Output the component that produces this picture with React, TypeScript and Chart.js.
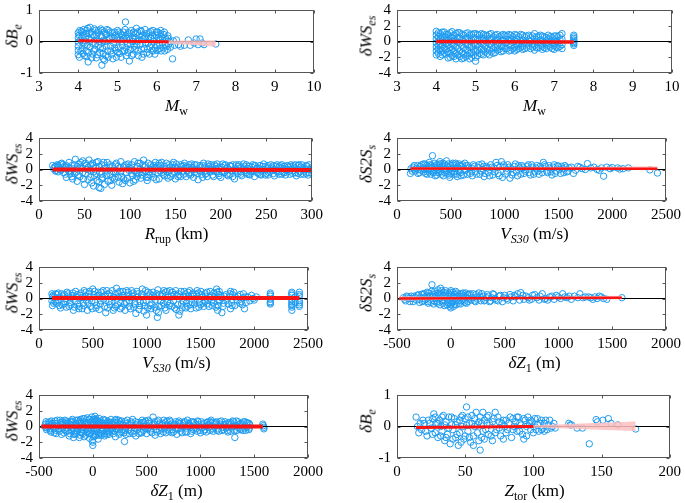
import React, { useEffect, useRef } from 'react';
import { Chart, registerables } from 'chart.js';
Chart.register(...registerables);

type P = [number, number];

// ---------- data ----------
const mwBe: P[] = [
  [4.0,0.28],[4.0,0.12],[4.0,-0.02],[4.0,-0.15],[4.0,-0.28],[4.0,-0.42],[4.02,0.2],[4.03,-0.5],
  [4.06,0.05],[4.08,0.32],[4.1,-0.22],[4.1,0.15],[4.12,-0.38],[4.14,0.38],[4.15,0.02],[4.17,-0.1],
  [4.2,0.25],[4.2,-0.3],[4.22,-0.48],[4.24,0.42],[4.25,-0.65],[4.27,0.1],[4.3,-0.18],[4.3,0.45],
  [4.33,0.3],[4.35,-0.05],[4.37,-0.4],[4.4,0.18],[4.42,-0.25],[4.44,0.35],[4.46,-0.52],[4.48,0.05],
  [4.5,0.28],[4.52,-0.12],[4.55,-0.35],[4.57,0.4],[4.6,0.15],[4.6,-0.75],[4.62,-0.22],[4.64,-0.55],
  [4.66,0.3],[4.68,0.0],[4.7,-0.45],[4.72,0.22],[4.75,-0.3],[4.77,0.35],[4.8,0.08],[4.82,-0.15],
  [4.85,-0.4],[4.87,0.28],[4.9,-0.05],[4.92,0.3],[4.95,-0.28],[4.97,-0.5],[5.0,0.35],[5.0,0.12],
  [5.02,-0.2],[5.05,-0.38],[5.08,0.25],[5.1,0.0],[5.12,-0.12],[5.15,0.3],[5.18,-0.3],[5.2,0.62],
  [5.2,0.18],[5.22,-0.45],[5.25,-0.08],[5.27,0.28],[5.3,-0.62],[5.3,0.05],[5.33,-0.25],[5.35,0.35],
  [5.38,0.12],[5.4,-0.4],[5.42,-0.15],[5.45,0.25],[5.48,0.42],[5.5,0.0],[5.52,-0.3],[5.55,0.2],
  [5.58,-0.1],[5.6,0.32],[5.62,-0.5],[5.65,0.08],[5.68,-0.22],[5.7,0.38],[5.72,0.15],[5.75,-0.35],
  [5.78,-0.05],[5.8,0.28],[5.82,-0.18],[5.85,0.1],[5.88,-0.28],[5.9,0.35],[5.92,0.0],[5.95,-0.4],
  [5.98,0.2],[6.0,-0.12],[6.02,0.3],[6.05,0.05],[6.08,-0.22],[6.1,0.35],[6.12,0.15],[6.15,-0.05],
  [6.18,0.22],[6.2,-0.3],[6.22,0.1],[6.25,-0.15],[6.28,0.18],[6.3,-0.08],[6.35,-0.18],[6.4,-0.55],
  [6.42,0.02],[6.45,-0.12],[6.5,0.05],[6.55,-0.1],[6.6,-0.15],[6.7,-0.12],[6.8,0.05],[6.85,-0.12],
  [6.95,-0.05],[7.0,0.08],[7.05,-0.1],[7.1,0.08],[7.15,-0.05],[7.2,-0.1],[7.5,-0.08],
];
const mwBeMore: P[] = [
  [4.04,0.35],[4.07,-0.3],[4.11,0.28],[4.13,-0.05],[4.16,-0.45],[4.19,0.12],[4.21,0.35],[4.23,-0.12],
  [4.26,-0.35],[4.28,0.25],[4.31,0.05],[4.34,-0.52],[4.36,0.22],[4.39,-0.3],[4.41,0.4],[4.43,-0.08],
  [4.47,0.2],[4.49,-0.42],[4.51,0.35],[4.53,0.0],[4.56,-0.2],[4.58,0.18],[4.61,0.35],[4.63,-0.38],
  [4.65,0.05],[4.67,-0.6],[4.69,0.25],[4.71,-0.15],[4.73,0.38],[4.76,-0.5],[4.78,0.1],[4.81,0.3],
  [4.83,-0.3],[4.86,0.15],[4.88,-0.55],[4.91,0.1],[4.93,-0.2],[4.96,0.2],[4.98,0.05],[5.01,-0.35],
  [5.03,0.3],[5.06,0.05],[5.09,-0.5],[5.11,0.2],[5.13,-0.3],[5.16,0.1],[5.19,0.38],[5.21,-0.2],
  [5.23,0.1],[5.26,-0.35],[5.28,0.15],[5.32,-0.1],[5.34,0.25],[5.36,-0.45],[5.39,0.0],[5.41,0.3],
  [5.44,-0.25],[5.46,0.1],[5.49,-0.1],[5.51,0.3],[5.53,-0.45],[5.56,0.05],[5.59,0.35],[5.61,-0.25],
  [5.63,0.18],[5.66,-0.4],[5.69,0.1],[5.71,-0.05],[5.74,0.25],[5.76,-0.25],[5.79,0.15],[5.81,-0.4],
  [5.84,0.32],[5.86,-0.1],[5.89,0.2],[5.91,-0.3],[5.94,0.1],[5.96,-0.2],[5.99,0.3],[6.01,-0.28],
  [6.04,0.12],[6.07,-0.12],[6.09,0.25],[6.11,-0.3],[6.14,0.1],[6.17,-0.2],[6.19,0.3],[6.21,-0.1],
  [6.24,0.05],[6.27,-0.25],[6.29,0.1],[6.32,0.0],
];

const mwWs: P[] = [
  [4.0,1.3],[4.0,0.8],[4.0,0.3],[4.0,-0.2],[4.0,-0.7],[4.0,-1.2],[4.0,-1.7],
  [4.1,1.0],[4.1,0.4],[4.1,-0.4],[4.1,-1.0],[4.1,-1.9],
  [4.2,1.2],[4.2,0.6],[4.2,-0.1],[4.2,-0.8],[4.2,-1.5],
  [4.3,0.9],[4.3,0.2],[4.3,-0.5],[4.3,-1.3],[4.3,-2.1],
  [4.4,1.25],[4.4,0.5],[4.4,-0.3],[4.4,-1.0],[4.4,-1.8],
  [4.5,1.0],[4.5,0.1],[4.5,-0.7],[4.5,-1.5],[4.5,-2.2],
  [4.6,1.1],[4.6,0.4],[4.6,-0.2],[4.6,-1.2],[4.6,-1.9],
  [4.7,0.8],[4.7,0.0],[4.7,-0.8],[4.7,-1.6],[4.7,-2.1],
  [4.8,1.1],[4.8,0.5],[4.8,-0.4],[4.8,-1.1],[4.8,-1.8],
  [4.9,0.9],[4.9,0.2],[4.9,-0.6],[4.9,-1.4],[4.9,-2.0],
  [5.0,1.0],[5.0,0.3],[5.0,-0.5],[5.0,-1.3],[5.0,-2.5],[5.0,-2.0],
  [5.1,0.8],[5.1,0.1],[5.1,-0.7],[5.1,-1.5],
  [5.2,0.9],[5.2,0.4],[5.2,-0.3],[5.2,-1.1],[5.2,-1.7],
  [5.3,0.7],[5.3,-0.1],[5.3,-0.9],[5.3,-1.5],
  [5.4,1.0],[5.4,0.3],[5.4,-0.5],[5.4,-1.3],
  [5.5,0.8],[5.5,0.0],[5.5,-0.8],[5.5,-1.4],
  [5.6,0.6],[5.6,-0.2],[5.6,-1.0],
  [5.7,0.9],[5.7,0.2],[5.7,-0.6],[5.7,-1.2],
  [5.8,0.7],[5.8,-0.1],[5.8,-0.9],
  [5.9,0.8],[5.9,0.3],[5.9,-0.5],[5.9,-1.1],
  [6.0,0.9],[6.0,0.1],[6.0,-0.7],[6.0,-1.2],
  [6.1,0.6],[6.1,-0.3],[6.1,-0.9],
  [6.2,0.8],[6.2,0.2],[6.2,-0.6],[6.2,-1.0],
  [6.3,0.7],[6.3,-0.2],[6.3,-0.8],
  [6.4,0.5],[6.4,0.0],[6.4,-0.9],
  [6.5,1.0],[6.5,0.3],[6.5,-0.5],[6.5,-1.1],
  [6.6,0.6],[6.6,-0.2],[6.6,-0.8],
  [6.7,0.7],[6.7,0.1],[6.7,-0.6],[6.7,-1.0],
  [6.8,0.5],[6.8,-0.3],[6.8,-0.9],
  [6.9,0.6],[6.9,0.0],[6.9,-0.7],
  [7.0,0.7],[7.0,0.2],[7.0,-0.5],[7.0,-1.0],
  [7.1,0.6],[7.1,-0.2],[7.1,-0.8],
  [7.2,1.0],[7.2,0.3],[7.2,-0.4],[7.2,-0.9],
  [7.5,0.8],[7.5,0.4],[7.5,0.0],[7.5,-0.3],[7.5,-0.5],
];
const mwWsMore: P[] = [
  [4.05,1.1],[4.05,0.6],[4.05,0.0],[4.05,-0.5],[4.05,-1.0],[4.05,-1.5],
  [4.15,1.2],[4.15,0.7],[4.15,0.1],[4.15,-0.6],[4.15,-1.2],[4.15,-1.7],
  [4.25,0.9],[4.25,0.3],[4.25,-0.3],[4.25,-1.0],[4.25,-1.6],
  [4.35,1.1],[4.35,0.6],[4.35,0.0],[4.35,-0.8],[4.35,-1.5],[4.35,-2.0],
  [4.45,0.8],[4.45,0.2],[4.45,-0.5],[4.45,-1.2],[4.45,-1.9],
  [4.55,1.15],[4.55,0.5],[4.55,-0.1],[4.55,-0.9],[4.55,-1.7],
  [4.65,0.9],[4.65,0.2],[4.65,-0.5],[4.65,-1.4],[4.65,-2.2],
  [4.75,1.0],[4.75,0.4],[4.75,-0.3],[4.75,-1.0],[4.75,-1.9],
  [4.85,0.8],[4.85,0.1],[4.85,-0.7],[4.85,-1.5],[4.85,-2.2],
  [4.95,1.0],[4.95,0.5],[4.95,-0.2],[4.95,-1.0],[4.95,-1.7],
  [5.05,0.9],[5.05,0.2],[5.05,-0.4],[5.05,-1.1],[5.05,-1.8],
  [5.15,1.0],[5.15,0.5],[5.15,-0.2],[5.15,-1.0],[5.15,-1.6],
  [5.25,0.8],[5.25,0.1],[5.25,-0.6],[5.25,-1.3],
  [5.35,0.9],[5.35,0.4],[5.35,-0.3],[5.35,-1.1],[5.35,-1.7],
  [5.45,0.6],[5.45,-0.1],[5.45,-0.9],[5.45,-1.5],
  [5.55,0.9],[5.55,0.3],[5.55,-0.5],[5.55,-1.1],
  [5.65,0.7],[5.65,0.1],[5.65,-0.6],[5.65,-1.3],
  [5.75,0.8],[5.75,-0.2],[5.75,-0.9],
  [5.85,0.9],[5.85,0.2],[5.85,-0.4],[5.85,-1.2],
  [5.95,0.6],[5.95,-0.1],[5.95,-0.9],
  [6.05,0.8],[6.05,0.3],[6.05,-0.4],[6.05,-1.0],
  [6.15,0.9],[6.15,0.0],[6.15,-0.7],
  [6.25,0.6],[6.25,-0.1],[6.25,-0.9],
  [6.35,0.8],[6.35,0.2],[6.35,-0.5],
  [6.45,0.7],[6.45,-0.3],[6.45,-0.7],
  [6.55,0.6],[6.55,0.0],[6.55,-0.8],
  [6.65,0.8],[6.65,0.2],[6.65,-0.5],
  [6.75,0.6],[6.75,-0.1],[6.75,-0.8],
  [6.85,0.8],[6.85,0.3],[6.85,-0.5],
  [6.95,0.5],[6.95,-0.2],[6.95,-0.9],
  [7.05,0.7],[7.05,0.0],[7.05,-0.7],
  [7.15,0.8],[7.15,0.2],[7.15,-0.6],
  [7.5,0.6],[7.5,0.2],[7.5,-0.15],
];

const rrupWs: P[] = [
  [15,0.5],[16,0.1],[18,-0.2],[20,0.6],[22,0.3],[24,-0.1],[25,0.8],[27,-0.4],[28,0.4],[30,-1.0],
  [31,0.0],[33,0.9],[34,-0.6],[36,0.5],[37,-1.2],[38,0.1],[40,1.3],[41,-0.3],[42,-1.5],[44,0.7],
  [45,-0.9],[47,0.2],[48,1.1],[50,-1.9],[51,-0.5],[52,0.5],[54,-1.3],[55,1.2],[56,-0.1],[58,-1.7],
  [59,0.8],[60,-2.1],[61,-0.8],[62,0.3],[64,-1.4],[65,1.0],[66,-2.3],[67,-0.3],[68,-2.4],[69,0.6],
  [70,-1.0],[72,-1.9],[73,0.2],[75,0.9],[76,-1.5],[78,-0.6],[80,-2.0],[81,0.4],[83,-1.2],[85,0.8],
  [86,-0.2],[88,-1.6],[90,1.0],[91,-0.9],[93,0.3],[95,-1.4],[96,-0.4],[98,0.7],[100,-1.7],[101,0.1],
  [103,-0.8],[105,1.0],[106,-1.3],[108,0.4],[110,-0.5],[112,-1.1],[114,0.6],[115,1.2],[117,-0.2],[119,-1.4],
  [120,0.8],[122,-0.7],[124,0.2],[126,-1.0],[128,0.9],[130,-0.4],[132,-1.2],[134,0.5],[136,0.0],[138,-0.8],
  [140,0.8],[142,-1.1],[144,0.3],[146,-0.5],[148,0.9],[150,-1.2],[152,0.1],[154,-0.7],[156,0.6],[158,-0.2],
  [160,0.8],[162,-0.9],[164,0.3],[166,-0.4],[168,0.7],[170,-1.0],[172,0.0],[175,-1.3],[177,0.5],[179,-0.6],
  [181,0.8],[183,-0.2],[185,-0.9],[187,0.4],[189,0.0],[191,-0.7],[193,0.6],[195,-0.3],[197,0.2],[200,-1.0],
  [202,0.7],[204,-0.4],[206,0.1],[208,-0.8],[210,0.5],[212,-0.2],[215,-1.2],[217,0.6],[219,-0.5],[221,0.2],
  [223,-0.8],[225,0.7],[227,-0.1],[229,-0.6],[231,0.4],[233,-0.3],[235,0.6],[237,-0.9],[239,0.1],[241,-0.5],
  [243,0.5],[245,-0.2],[247,0.7],[249,-0.7],[251,0.2],[253,-0.4],[255,0.6],[257,-0.1],[259,-0.8],[261,0.4],
  [263,-0.3],[265,0.5],[267,-0.6],[269,0.1],[271,-0.7],[273,0.5],[275,-0.2],[277,0.6],[279,-0.5],[281,0.2],
  [283,-0.8],[285,0.5],[287,-0.3],[289,0.6],[291,-0.6],[293,0.1],[295,0.4],[297,-0.4],[299,0.2],[300,-0.5],
];
const rrupWsMore: P[] = [
  [17,0.3],[19,-0.1],[21,0.5],[23,0.0],[26,0.6],[29,-0.6],[32,0.3],[35,-0.3],[39,0.6],[43,-0.7],
  [46,0.9],[49,-1.2],[53,0.0],[57,-1.0],[60,0.5],[63,-0.5],[66,-1.6],[69,-1.2],[71,0.9],[74,-0.7],
  [77,0.3],[79,-1.4],[82,-0.3],[84,0.6],[87,-1.0],[89,0.2],[92,-1.8],[94,0.5],[97,-1.1],[99,-0.1],
  [102,0.6],[104,-1.5],[107,-0.4],[109,0.8],[111,0.0],[113,-0.7],[116,0.3],[118,-1.0],[121,-0.3],[123,0.6],
  [125,-0.5],[127,0.2],[129,-1.3],[131,0.5],[133,-0.2],[135,0.9],[137,-0.6],[139,0.1],[141,-0.3],[143,0.6],
  [145,-0.9],[147,0.2],[149,-0.4],[151,0.7],[153,-0.9],[155,0.0],[157,0.4],[159,-0.6],[161,0.3],[163,-0.2],
  [165,0.6],[167,-0.7],[169,0.2],[171,-0.4],[173,0.6],[176,-0.1],[178,0.3],[180,-1.0],[182,0.2],[184,-0.5],
  [186,0.7],[188,-0.3],[190,0.3],[192,-0.9],[194,0.1],[196,0.7],[198,-0.5],[201,0.3],[203,-0.2],[205,0.6],
  [207,-0.6],[209,0.0],[211,0.4],[213,-0.9],[216,0.2],[218,-0.3],[220,0.6],[222,-0.6],[224,0.0],[226,0.4],
  [228,-0.4],[230,0.1],[232,-0.7],[234,0.3],[236,-0.2],[238,0.5],[240,-0.4],[242,0.1],[244,-0.7],[246,0.4],
  [248,0.0],[250,-0.5],[252,0.5],[254,-0.2],[256,0.3],[258,-0.5],[260,0.0],[262,0.6],[264,-0.6],[266,0.2],
  [268,-0.3],[270,0.4],[272,-0.1],[274,0.3],[276,-0.6],[278,0.1],[280,0.5],[282,-0.4],[284,0.0],[286,0.6],
  [288,-0.6],[290,0.2],[292,-0.2],[294,0.5],[296,-0.7],[298,0.0],
];
const rrupWsCore: P[] = [
  [18,0.4],[21,-0.3],[24,0.7],[27,0.2],[30,0.5],[33,-0.2],[36,-0.9],[39,-0.5],[42,0.4],[45,0.2],
  [48,-0.4],[51,0.8],[54,0.3],[57,0.6],[60,-0.3],[63,0.9],[66,0.4],[69,-0.6],[72,0.5],[75,-0.2],
  [78,0.6],[81,-1.0],[84,-0.5],[87,0.4],[90,-0.3],[93,-1.2],[96,0.6],[99,0.3],[102,-0.5],[105,-0.2],
  [108,-0.9],[111,0.8],[114,-0.3],[117,0.5],[120,-1.0],[123,0.0],[126,0.5],[129,0.3],[132,0.8],[135,-0.4],
  [138,0.4],[141,-0.8],[144,-0.1],[147,0.6],[150,0.3],[153,-0.3],[156,-0.9],[159,0.5],[162,0.1],[165,-0.6],
  [168,0.3],[171,0.6],[174,-0.5],[177,-0.2],[180,0.5],[183,-0.6],[186,0.1],[189,0.6],[192,-0.2],[195,0.4],
  [198,-0.8],[201,-0.3],[204,0.5],[207,0.2],[210,-0.6],[213,0.6],[216,-0.1],[219,0.4],[222,-0.3],[225,0.2],
  [228,0.6],[231,-0.6],[234,-0.1],[237,0.5],[240,0.2],[243,-0.6],[246,0.0],[249,0.4],[252,-0.7],[255,0.1],
  [258,0.5],[261,-0.2],[264,0.3],[267,0.6],[270,-0.4],[273,0.0],[276,0.4],[279,-0.2],[282,0.6],[285,-0.5],
  [288,0.3],[291,0.0],[294,-0.5],[297,0.6],[300,0.1],
];

const vsS2s: P[] = [
  [125,-0.5],[130,0.1],[150,0.3],[170,-0.2],[190,0.5],[200,0.0],[210,-0.4],[230,0.6],[240,0.2],[250,-0.3],
  [260,0.7],[270,0.1],[280,-0.6],[290,0.4],[300,0.9],[310,-0.1],[320,0.5],[330,1.75],[340,-0.4],[350,0.8],
  [360,0.2],[370,-0.7],[380,0.6],[390,0.0],[400,1.0],[410,-0.3],[420,0.4],[430,-0.8],[440,0.7],[450,0.1],
  [460,1.1],[470,-0.5],[480,0.3],[490,-1.0],[500,0.5],[510,-0.2],[520,0.8],[530,-0.6],[540,0.2],[550,0.6],
  [560,-0.9],[570,0.0],[580,0.7],[590,-0.4],[600,0.4],[620,-0.7],[630,0.8],[640,-0.1],[660,0.5],[680,-0.5],
  [690,0.2],[700,-0.8],[710,0.6],[730,-0.3],[750,0.3],[770,-0.6],[790,0.7],[800,0.0],[810,-0.9],[830,0.4],
  [850,-0.4],[870,0.6],[890,-0.7],[900,0.2],[920,0.9],[940,-0.5],[960,0.4],[970,1.0],[980,-1.0],[1000,0.3],
  [1010,-0.6],[1030,0.6],[1050,-1.1],[1060,0.1],[1080,-0.4],[1100,0.7],[1120,-0.8],[1140,0.2],[1160,0.5],[1180,-0.5],
  [1200,0.0],[1220,0.6],[1240,-0.7],[1260,0.3],[1280,-0.3],[1300,0.5],[1320,-0.6],[1340,0.1],[1360,0.9],[1380,0.4],
  [1400,-0.4],[1420,0.2],[1440,-0.7],[1460,0.6],[1480,-0.2],[1500,0.4],[1520,-0.5],[1540,0.1],[1560,0.5],[1580,-0.3],
  [1600,0.2],[1640,-0.5],[1680,0.4],[1720,0.1],[1770,0.75],[1800,0.2],[1860,0.0],[1900,0.2],[1920,-0.85],[1950,0.3],
  [1980,0.1],[2050,0.2],[2100,0.1],[2150,0.2],[2350,-0.05],[2420,-0.45],
];
const vsS2sMore: P[] = [
  [140,-0.2],[160,0.5],[180,0.1],[195,-0.5],[215,0.4],[225,-0.1],[245,0.7],[255,0.0],[265,-0.5],[275,0.5],
  [285,0.0],[295,-0.3],[305,0.6],[315,-0.6],[325,0.2],[335,-0.2],[345,0.3],[355,-0.8],[365,0.6],[375,0.0],
  [385,-0.4],[395,0.7],[405,0.2],[415,-0.6],[425,0.8],[435,0.0],[445,-0.4],[455,0.5],[465,-0.1],[475,0.7],
  [485,-0.7],[495,0.0],[505,-0.5],[515,0.6],[525,0.1],[535,-0.3],[545,0.8],[555,-0.6],[565,0.3],[575,-0.2],
  [585,0.5],[595,-0.8],[610,0.6],[625,0.0],[645,0.5],[655,-0.6],[670,0.2],[695,-0.2],[720,0.4],[740,-0.6],
  [760,0.6],[780,-0.2],[805,0.4],[820,-0.5],[840,0.2],[860,-0.8],[880,0.3],[910,-0.3],[930,0.5],[950,-0.8],
  [990,0.6],[1020,-0.2],[1040,0.3],[1070,-0.7],[1090,0.4],[1110,-0.3],[1130,0.5],[1150,-0.6],[1170,0.3],[1190,-0.2],
  [1210,0.4],[1230,-0.4],[1250,0.6],[1270,-0.6],[1290,0.2],[1310,-0.2],[1330,0.4],[1350,-0.4],[1370,0.6],[1390,-0.2],
  [1410,0.5],[1430,-0.3],[1450,0.3],[1470,-0.5],[1490,0.5],[1510,0.0],[1530,0.4],[1550,-0.4],[1570,0.3],[1590,-0.2],
  [1620,0.3],[1660,-0.1],[1700,0.3],[1750,0.0],[1830,0.3],[1880,-0.1],[2000,0.25],[2070,0.05],
];

const vsWs: P[] = [
  [120,0.6],[120,-0.3],[125,-0.9],[140,0.2],[160,-0.6],[180,0.7],[200,-1.2],[220,0.3],[240,-0.4],[260,0.8],
  [280,-1.0],[300,0.1],[320,-1.5],[340,0.9],[360,-0.7],[380,0.4],[400,-1.3],[420,1.0],[440,-0.2],[460,0.6],
  [480,-1.0],[500,1.2],[520,-0.5],[540,0.3],[560,-1.4],[580,0.8],[600,-0.1],[620,-1.8],[640,0.5],[660,-0.8],
  [680,1.0],[700,-1.2],[720,1.3],[740,0.2],[760,-0.6],[780,0.9],[800,-1.5],[820,0.4],[840,-0.3],[860,1.0],
  [880,-1.1],[900,-1.9],[920,0.6],[940,-0.4],[960,1.2],[980,-0.9],[1000,-2.1],[1020,0.3],[1040,-1.3],[1060,0.8],
  [1080,-0.2],[1100,-2.4],[1110,-1.8],[1120,0.5],[1140,-0.9],[1160,1.0],[1180,-1.5],[1200,0.2],[1220,-0.6],[1240,0.8],
  [1260,-1.2],[1280,0.4],[1300,-2.1],[1310,-1.6],[1320,0.9],[1340,-0.3],[1360,0.6],[1380,-1.0],[1400,1.0],[1420,-0.5],
  [1440,0.3],[1460,-1.2],[1480,0.7],[1500,-0.8],[1520,0.2],[1540,-0.4],[1560,0.8],[1580,-1.0],[1600,0.4],[1620,-0.6],
  [1650,1.2],[1660,-1.5],[1670,0.5],[1680,-0.2],[1700,-1.8],[1720,0.3],[1760,-0.7],[1780,0.9],[1780,-1.3],[1800,0.5],
  [1820,-0.9],[1850,0.3],[1880,-0.4],[1900,0.6],[1910,-1.3],[1940,0.2],[2000,-0.2],[2020,0.2],
  [2150,0.7],[2150,0.3],[2150,-0.1],[2150,-0.4],[2150,-0.7],
  [2350,0.8],[2350,0.4],[2350,-0.2],[2350,-0.7],[2350,-1.1],[2350,-1.5],[2380,0.2],[2380,-0.5],
  [2420,0.8],[2420,0.3],[2420,-0.3],[2420,-0.8],[2420,-1.0],
];
const vsWsMore: P[] = [
  [130,0.4],[150,-0.4],[170,0.5],[190,-0.9],[210,0.6],[230,-0.7],[250,0.0],[270,0.6],[290,-0.5],[310,0.4],
  [330,-1.1],[350,0.2],[370,-1.3],[390,0.7],[410,-0.6],[430,0.3],[450,-1.5],[470,0.9],[490,-0.3],[510,0.5],
  [530,-1.2],[550,0.8],[570,-0.7],[590,0.2],[610,-1.0],[630,1.0],[650,-0.4],[670,0.3],[690,-1.5],[710,0.6],
  [730,-0.8],[750,0.9],[770,-1.1],[790,0.1],[810,-0.5],[830,0.8],[850,-1.3],[870,0.3],[890,-0.6],[910,0.9],
  [930,-1.4],[950,0.2],[970,-0.5],[990,1.0],[1010,-1.2],[1030,0.6],[1050,-0.7],[1070,0.2],[1090,-1.5],[1105,1.1],
  [1130,-0.3],[1150,0.6],[1170,-1.2],[1190,0.9],[1210,-0.9],[1230,0.3],[1250,-0.3],[1270,1.0],[1290,-0.8],[1315,0.2],
  [1330,-1.2],[1350,0.9],[1370,-0.6],[1390,0.3],[1410,-1.3],[1430,0.7],[1450,-0.2],[1470,1.0],[1490,-0.5],[1510,0.5],
  [1530,-1.0],[1550,0.3],[1570,-0.2],[1590,0.9],[1610,-0.9],[1630,0.2],[1655,0.8],[1665,-0.9],[1675,-0.3],[1690,0.4],
  [1710,-1.0],[1740,0.5],[1770,0.2],[1790,-0.5],[1810,0.8],[1840,-0.2],[1870,0.5],[1890,-0.8],[1920,0.2],[1960,-0.3],
  [1990,0.0],[2150,0.5],[2150,-0.55],[2350,0.6],[2350,-0.45],[2350,-0.9],[2420,0.5],[2420,-0.55],
];
const vsWsCore: P[] = [
  [125,0.2],[135,-0.6],[155,0.6],[175,-0.3],[195,0.2],[215,-0.8],[235,0.5],[255,-1.1],[275,0.3],[295,-0.8],
  [315,0.7],[335,-0.3],[355,0.5],[375,-1.0],[395,0.1],[415,-0.9],[435,0.8],[455,-0.6],[475,0.2],[495,-1.3],
  [515,0.9],[535,-0.9],[555,0.4],[575,-0.3],[595,1.0],[615,0.4],[635,-1.2],[655,0.7],[675,-0.4],[695,0.1],
  [715,-1.0],[735,0.7],[755,-1.3],[775,0.4],[795,-0.7],[815,1.0],[835,-1.0],[855,0.1],[875,0.7],[895,-0.8],
  [915,0.2],[935,-0.9],[955,0.6],[975,-1.6],[995,-0.3],[1015,0.8],[1035,-0.9],[1055,0.4],[1075,-1.1],[1095,0.6],
  [1115,-1.0],[1135,0.3],[1155,-0.6],[1175,0.8],[1195,-0.4],[1215,1.0],[1235,-1.0],[1255,0.5],[1275,-1.4],[1295,0.6],
  [1325,-0.7],[1345,0.3],[1365,-1.2],[1385,0.8],[1405,-0.8],[1425,0.5],[1445,-0.7],[1465,0.5],[1485,-1.1],[1505,0.9],
  [1525,-0.6],[1545,0.6],[1565,-0.7],[1585,0.2],[1605,-0.3],[1625,0.7],[1645,-1.1],[1675,0.9],[1695,0.1],[1715,-0.6],
  [1745,-0.2],[1775,0.6],[1795,-0.9],[1825,0.2],[1865,-0.6],[1895,0.1],[1925,-0.5],[1975,0.4],
];

const dz1S2s: P[] = [
  [-440,0.1],[-420,-0.3],[-400,0.2],[-380,-0.4],[-360,0.0],[-340,0.3],[-320,-0.2],[-300,0.5],[-290,-0.5],[-280,0.1],
  [-260,0.6],[-250,-0.3],[-240,0.2],[-220,0.8],[-210,-0.6],[-200,0.3],[-190,-0.1],[-175,1.75],[-170,0.5],[-160,-0.7],
  [-150,0.9],[-140,0.0],[-130,-0.4],[-120,1.1],[-110,0.4],[-100,-0.8],[-95,1.3],[-90,0.2],[-80,-0.3],[-70,0.8],
  [-60,-0.9],[-50,1.0],[-40,0.1],[-30,-0.5],[-20,0.6],[-10,-1.0],[0,1.0],[0,-1.2],[5,0.3],[10,-0.6],
  [20,0.8],[25,-1.0],[30,0.0],[40,0.5],[50,-0.8],[60,0.7],[70,-0.3],[80,0.3],[90,-0.7],[100,0.6],
  [110,-0.2],[120,0.4],[130,-0.5],[140,0.7],[150,0.1],[160,-0.4],[170,0.5],[190,-0.2],[210,0.6],[230,-0.4],
  [240,0.2],[260,0.7],[280,-0.3],[300,0.3],[320,-0.2],[340,0.5],[360,-0.4],[380,0.1],[400,0.5],[420,-0.2],
  [450,0.3],[480,-0.4],[500,0.4],[520,0.0],[550,0.5],[580,-0.3],[600,0.2],[620,0.6],[650,0.75],[680,-0.1],
  [700,0.3],[730,-0.2],[760,0.4],[800,0.1],[820,-0.2],[850,0.6],[880,0.0],[900,-0.2],[940,0.3],[960,-0.1],
  [1000,0.2],[1040,0.6],[1080,0.1],[1120,-0.1],[1150,0.3],[1200,0.6],[1230,0.1],[1280,0.2],[1320,-0.1],[1340,0.2],
  [1380,0.3],[1420,0.0],[1450,-0.1],[1590,0.1],
];
const dz1S2sMore: P[] = [
  [-430,-0.1],[-410,0.3],[-390,0.0],[-370,0.3],[-350,-0.4],[-330,0.1],[-310,0.4],[-295,-0.1],[-270,0.5],[-265,-0.4],
  [-245,0.6],[-235,-0.1],[-225,0.3],[-215,-0.4],[-205,0.7],[-195,0.2],[-185,-0.5],[-180,0.9],[-165,0.2],[-155,-0.3],
  [-145,0.6],[-135,0.3],[-125,-0.6],[-115,0.7],[-105,0.0],[-98,0.6],[-85,1.0],[-75,-0.6],[-65,0.4],[-55,-0.3],
  [-45,0.7],[-35,-0.8],[-25,0.3],[-15,-0.2],[-5,0.8],[2,-0.8],[8,0.5],[15,-0.4],[22,0.2],[35,-0.7],
  [45,0.9],[55,-0.2],[65,0.3],[75,-0.6],[85,0.6],[95,-0.3],[105,0.2],[115,0.7],[125,-0.3],[135,0.2],
  [145,-0.6],[155,0.5],[165,0.0],[180,0.6],[200,0.1],[220,-0.3],[235,0.5],[250,-0.1],[270,0.3],[290,0.6],
  [310,-0.3],[330,0.1],[350,0.3],[370,-0.3],[390,0.6],[410,0.0],[440,-0.3],[460,0.4],[490,0.1],[530,-0.2],
  [560,0.2],[590,0.4],[640,-0.2],[670,0.4],[720,0.1],[750,-0.1],[780,0.5],[830,0.3],[870,-0.1],[920,0.2],
  [980,0.4],[1020,0.0],[1060,0.2],[1100,0.3],[1180,0.1],[1250,0.2],[1300,0.1],[1360,0.0],[1400,0.2],
];

const dz1Ws: P[] = [
  [-440,0.3],[-430,-0.4],[-420,0.0],[-400,0.6],[-390,-0.7],[-380,0.2],[-360,-0.3],[-350,0.7],[-340,-0.9],[-320,0.1],
  [-300,0.5],[-290,-1.0],[-280,-0.2],[-260,0.8],[-250,-0.6],[-240,0.3],[-220,-1.2],[-210,0.6],[-200,-0.1],[-190,0.9],
  [-180,-1.4],[-170,-0.5],[-160,0.4],[-150,-0.9],[-140,0.8],[-130,0.0],[-120,-1.1],[-110,0.6],[-100,-0.4],[-90,1.0],
  [-80,-1.3],[-70,0.2],[-60,-0.7],[-50,1.1],[-40,-0.2],[-30,-1.5],[-20,0.5],[-10,1.2],[0,-2.4],[0,-2.0],
  [5,-0.6],[10,0.3],[20,1.3],[25,-1.2],[30,0.8],[40,-0.3],[50,-1.6],[55,0.6],[60,1.0],[70,-0.9],
  [80,0.2],[90,-0.4],[100,0.9],[110,-1.2],[120,0.4],[130,-0.6],[140,0.7],[150,-1.0],[160,0.1],[170,0.9],
  [180,-0.5],[200,0.5],[210,-1.3],[220,0.0],[240,0.8],[250,-0.8],[260,0.3],[280,-0.4],[295,-1.9],[300,0.6],
  [310,-1.0],[330,0.2],[350,-0.6],[370,0.9],[390,-0.2],[400,-1.2],[420,0.5],[440,-0.7],[460,0.8],[480,0.0],
  [500,-0.9],[520,0.4],[540,-0.3],[560,1.2],[580,-1.1],[600,0.6],[620,-0.5],[640,0.2],[660,0.8],[680,-0.8],
  [700,0.1],[720,0.6],[740,-0.4],[760,0.3],[780,-1.0],[800,0.7],[820,-0.2],[840,0.4],[860,-0.7],[880,0.8],
  [900,0.0],[920,-0.6],[940,0.5],[960,-0.3],[980,0.6],[1000,-0.8],[1020,0.2],[1040,-0.4],[1060,0.5],[1080,-0.1],
  [1100,0.8],[1120,-0.6],[1140,0.3],[1160,-0.3],[1180,0.6],[1200,-0.5],[1220,0.2],[1240,-0.2],[1260,0.5],[1280,-0.6],
  [1300,0.7],[1320,-1.4],[1330,0.1],[1350,0.6],[1370,-0.4],[1390,0.3],[1410,-0.2],[1430,0.5],[1450,-0.4],[1460,0.2],
  [1580,0.3],[1590,-0.1],[1590,-0.3],
];
const dz1WsMore: P[] = [
  [-435,0.6],[-425,-0.2],[-410,0.3],[-395,-0.5],[-385,0.7],[-370,-0.1],[-355,0.4],[-345,-0.5],[-330,0.8],[-310,-0.6],
  [-295,0.2],[-285,0.6],[-270,-0.8],[-255,0.4],[-245,-0.2],[-230,0.6],[-215,-0.9],[-205,0.2],[-195,-0.5],[-185,0.6],
  [-175,-1.0],[-165,0.1],[-155,0.8],[-145,-0.6],[-135,0.4],[-125,-1.4],[-115,0.9],[-105,-0.8],[-95,0.3],[-85,-0.1],
  [-75,1.0],[-65,-1.1],[-55,0.5],[-45,-0.6],[-35,0.9],[-25,-0.9],[-15,0.1],[-5,-1.8],[2,0.9],[8,-1.3],
  [15,0.6],[22,-0.3],[28,1.0],[35,-1.0],[45,0.4],[52,-0.8],[62,0.3],[75,0.7],[85,-0.6],[95,0.1],
  [105,-0.9],[115,0.8],[125,-0.3],[135,0.5],[145,-0.8],[155,0.5],[165,-0.4],[175,0.3],[190,-0.9],[205,0.8],
  [215,-0.3],[230,0.5],[245,-1.0],[255,0.6],[270,-0.7],[285,0.2],[305,-0.5],[320,0.8],[340,-0.9],[360,0.4],
  [380,-0.6],[410,0.2],[430,-0.9],[450,0.5],[470,-0.5],[490,0.7],[510,-0.3],[530,0.6],[550,-0.8],[570,0.3],
  [590,-0.4],[610,0.8],[630,-0.9],[650,0.4],[670,-0.3],[690,0.7],[710,-0.6],[730,0.3],[750,-0.7],[770,0.6],
  [790,-0.3],[810,0.4],[830,-0.8],[850,0.6],[870,-0.2],[890,0.4],[910,-0.9],[930,0.6],[950,-0.1],[970,-0.6],
  [990,0.2],[1010,0.6],[1030,-0.6],[1050,0.0],[1070,0.6],[1090,-0.5],[1110,0.5],[1130,-0.1],[1150,0.6],[1170,-0.6],
  [1190,0.3],[1210,-0.1],[1230,0.6],[1250,-0.5],[1270,0.3],[1290,-0.2],[1310,0.6],[1340,-0.5],[1360,0.3],[1380,-0.3],
  [1400,0.6],[1420,-0.5],[1440,0.4],[1455,-0.2],[1585,0.1],
];
const dz1WsCore: P[] = [
  [-438,-0.1],[-415,0.5],[-398,-0.3],[-375,0.4],[-358,-0.8],[-336,0.4],[-318,-0.3],[-303,0.8],[-282,0.3],[-265,-0.4],
  [-248,0.7],[-232,-0.6],[-218,0.3],[-198,0.7],[-182,-0.2],[-168,-0.9],[-152,0.2],[-138,-0.3],[-122,0.6],[-108,-0.2],
  [-92,-0.9],[-78,0.6],[-62,-0.2],[-48,0.3],[-32,-0.9],[-18,-0.4],[-3,0.6],[3,-1.0],[12,-0.2],[18,0.9],
  [32,-0.6],[42,0.7],[58,-1.1],[68,0.5],[82,-1.1],[98,-0.2],[112,0.3],[128,-1.0],[142,0.2],[158,-0.6],
  [172,0.5],[188,-0.2],[202,-0.6],[218,0.9],[235,-0.4],[252,0.2],[268,0.7],[288,-0.8],[302,-0.1],[318,0.4],
  [335,-0.4],[355,0.6],[375,-0.9],[395,0.6],[415,-0.4],[435,0.2],[455,-0.8],[475,0.5],[495,-0.3],[515,0.8],
  [535,-0.6],[555,0.2],[575,0.6],[595,-0.7],[615,0.3],[635,-0.2],[655,-0.7],[675,0.5],[695,-0.4],[715,0.8],
  [735,-0.8],[755,0.2],[775,-0.3],[795,0.5],[815,-0.6],[835,0.1],[855,0.6],[875,-0.7],[895,0.2],[915,0.6],
  [935,-0.4],[955,0.3],[975,0.7],[995,-0.5],[1015,-0.2],[1035,0.4],[1055,-0.7],[1075,0.2],[1095,0.6],[1115,-0.3],
  [1135,0.5],[1155,-0.5],[1175,0.1],[1195,0.7],[1215,-0.4],[1235,0.3],[1255,-0.7],[1275,0.5],[1295,0.0],[1315,-0.5],
  [1335,0.7],[1355,-0.2],[1375,0.4],[1395,-0.5],[1415,0.6],[1435,-0.1],[1452,0.4],
];

const ztorBe: P[] = [
  [14,0.3],[15,0.0],[16,-0.2],[18,-0.1],[20,0.1],[22,-0.3],[23,0.2],[25,-0.05],[26,0.25],[27,0.4],
  [28,-0.2],[29,0.1],[30,-0.35],[31,0.2],[32,0.0],[33,-0.15],[34,0.35],[35,-0.45],[36,0.15],[37,-0.25],
  [38,0.3],[39,-0.55],[40,0.05],[41,-0.1],[42,0.25],[43,-0.35],[44,0.15],[45,-0.6],[46,-0.2],[47,0.3],
  [48,0.0],[49,-0.4],[50,0.25],[51,0.62],[52,-0.15],[53,0.1],[54,-0.5],[55,0.35],[56,-0.3],[57,0.0],
  [58,0.45],[59,-0.2],[60,0.15],[61,-0.75],[62,-0.35],[63,0.45],[64,0.2],[65,-0.1],[66,0.3],[67,-0.25],
  [68,0.05],[70,-0.45],[71,0.25],[72,0.45],[73,-0.1],[75,0.15],[76,-0.3],[78,0.2],[79,0.0],[80,-0.2],
  [82,0.1],[84,-0.35],[85,0.25],[86,0.0],[88,-0.15],[89,0.3],[90,0.1],[92,-0.25],[93,-0.4],[94,0.2],
  [95,0.0],[96,0.3],[98,-0.1],[99,0.15],[100,-0.2],[101,0.25],[103,0.05],[104,-0.15],[106,0.2],[107,-0.05],
  [108,0.1],[110,-0.1],[112,0.2],[114,0.0],[116,-0.05],[126,0.1],[128,0.05],[132,-0.05],[136,-0.05],[141,-0.55],
  [146,0.22],[147,0.15],[151,0.2],[155,0.25],[157,0.1],[162,0.05],[175,-0.08],
];
const ztorBeMore: P[] = [
  [17,0.1],[19,0.2],[21,-0.15],[24,0.1],[26,-0.25],[28,0.3],[30,0.1],[32,-0.3],[33,0.3],[35,0.05],
  [36,-0.35],[38,-0.05],[40,0.3],[41,-0.4],[43,0.05],[44,-0.25],[46,0.2],[47,-0.5],[48,0.35],[50,-0.3],
  [51,0.05],[52,0.3],[53,-0.35],[55,0.1],[56,-0.6],[57,0.25],[59,0.05],[60,-0.45],[61,0.3],[62,0.1],
  [63,-0.15],[64,-0.4],[66,0.1],[67,0.35],[69,-0.3],[70,0.15],[72,-0.2],[74,0.3],[75,-0.05],[77,0.1],
  [78,-0.4],[80,0.2],[81,-0.1],[83,0.3],[85,-0.1],[87,0.15],[88,0.3],[90,-0.15],[91,0.05],[93,0.25],
  [95,-0.3],[97,0.1],[98,0.2],[100,0.0],[102,-0.1],[103,0.25],[105,0.1],[106,-0.1],[108,-0.15],[109,0.2],
  [111,0.05],[113,-0.05],[115,0.1],[127,0.05],
];

// fitted trend lines (x, y) and confidence band (x, upper, lower)
const fit1X = [4, 6.3];        const fit1Y = [0.02, -0.01];
const band1X = [4, 5, 6, 7, 7.5]; const band1Hi = [0.05, 0.04, 0.03, 0.03, 0.03]; const band1Lo = [-0.01, -0.02, -0.05, -0.12, -0.17];
const fit2X = [4, 7.5];        const fit2Y = [0.0, -0.05];
const band2X = [4, 7.5];       const band2Hi = [0.15, 0.1];  const band2Lo = [-0.15, -0.2];
const fit3X = [15, 300];       const fit3Y = [0.0, -0.05];
const band3X = [15, 300];      const band3Hi = [0.15, 0.1];  const band3Lo = [-0.15, -0.2];
const fit4X = [125, 2420];     const fit4Y = [0.12, 0.1];
const band4X = [125, 1200, 2420]; const band4Hi = [0.3, 0.25, 0.4]; const band4Lo = [-0.05, 0.0, -0.1];
const fit5X = [120, 2420];     const fit5Y = [0.05, 0.05];
const band5X = [120, 2420];    const band5Hi = [0.2, 0.2];   const band5Lo = [-0.1, -0.1];
const fit6X = [-480, 1590];    const fit6Y = [0.0, 0.1];
const band6X = [-480, 500, 1590]; const band6Hi = [0.3, 0.15, 0.36]; const band6Lo = [-0.3, 0.0, -0.12];
const fit7X = [-480, 1580];    const fit7Y = [0.0, 0.0];
const band7X = [-480, 1580];   const band7Hi = [0.15, 0.15]; const band7Lo = [-0.15, -0.15];
const fit8X = [14, 100];       const fit8Y = [-0.03, 0.0];
const band8X = [14, 100, 175]; const band8Hi = [0.0, 0.04, 0.16]; const band8Lo = [-0.05, -0.03, -0.14];

// axis ranges [min, max, step]
const axMw = [3, 10, 1];
const axRrup = [0, 300, 50];
const axVs = [0, 2500, 500];
const axDz = [-500, 2000, 500];
const axZtor = [0, 200, 50];
const axB = [-1, 1, 1];
const axW = [-4, 4, 2];

// ---------- layout ----------
const PW = 275, PH = 68;
const COLX = [39, 397];
const ROWY = [5, 133, 262, 390];
const YTX = [13, 367];
const FONT = "'Liberation Serif', 'Times New Roman', Times, serif";
const BLUE = 'rgb(30,155,240)';
Chart.defaults.font.family = FONT;
Chart.defaults.font.size = 15;
Chart.defaults.color = '#000';

const sub = (t: string, italic = false) => (
  <span style={{ fontSize: 12, position: 'relative', top: 4, fontStyle: italic ? 'italic' : 'normal' }}>{t}</span>
);
const T_Be = <i>δB{sub('e', true)}</i>;
const T_Ws = <i>δWS{sub('es', true)}</i>;
const T_S2s = <i>δS2S{sub('s', true)}</i>;
const T_Mw = <><i>M</i>{sub('w')}</>;
const T_Rrup = <><i>R</i>{sub('rup')} (km)</>;
const T_Vs = <><i>V</i>{sub('S30', true)} (m/s)</>;
const T_Dz = <><i>δZ</i>{sub('1')} (m)</>;
const T_Ztor = <><i>Z</i>{sub('tor')} (km)</>;

type Cfg = {
  pts: P[]; ax: number[]; ay: number[];
  fx: number[]; fy: number[]; bx: number[]; bh: number[]; bl: number[];
  lw: number; col: number; row: number; xt: React.ReactNode; yt: React.ReactNode;
};

const PANELS: Cfg[] = [
  { pts: [...mwBe, ...mwBeMore], ax: axMw, ay: axB, fx: fit1X, fy: fit1Y, bx: band1X, bh: band1Hi, bl: band1Lo, lw: 3, col: 0, row: 0, xt: T_Mw, yt: T_Be },
  { pts: [...mwWs, ...mwWsMore], ax: axMw, ay: axW, fx: fit2X, fy: fit2Y, bx: band2X, bh: band2Hi, bl: band2Lo, lw: 3.5, col: 1, row: 0, xt: T_Mw, yt: T_Ws },
  { pts: [...rrupWs, ...rrupWsMore, ...rrupWsCore], ax: axRrup, ay: axW, fx: fit3X, fy: fit3Y, bx: band3X, bh: band3Hi, bl: band3Lo, lw: 4, col: 0, row: 1, xt: T_Rrup, yt: T_Ws },
  { pts: [...vsS2s, ...vsS2sMore], ax: axVs, ay: axW, fx: fit4X, fy: fit4Y, bx: band4X, bh: band4Hi, bl: band4Lo, lw: 2.5, col: 1, row: 1, xt: T_Vs, yt: T_S2s },
  { pts: [...vsWs, ...vsWsMore, ...vsWsCore], ax: axVs, ay: axW, fx: fit5X, fy: fit5Y, bx: band5X, bh: band5Hi, bl: band5Lo, lw: 4, col: 0, row: 2, xt: T_Vs, yt: T_Ws },
  { pts: [...dz1S2s, ...dz1S2sMore], ax: axDz, ay: axW, fx: fit6X, fy: fit6Y, bx: band6X, bh: band6Hi, bl: band6Lo, lw: 2.5, col: 1, row: 2, xt: T_Dz, yt: T_S2s },
  { pts: [...dz1Ws, ...dz1WsMore, ...dz1WsCore], ax: axDz, ay: axW, fx: fit7X, fy: fit7Y, bx: band7X, bh: band7Hi, bl: band7Lo, lw: 4, col: 0, row: 3, xt: T_Dz, yt: T_Ws },
  { pts: [...ztorBe, ...ztorBeMore], ax: axZtor, ay: axB, fx: fit8X, fy: fit8Y, bx: band8X, bh: band8Hi, bl: band8Lo, lw: 3, col: 1, row: 3, xt: T_Ztor, yt: T_Be },
];

const boxPlugin = {
  id: 'matlabBox',
  afterDatasetsDraw(chart: any) {
    const { ctx, chartArea: a, scales } = chart;
    const x = scales.x, y = scales.y;
    const L = Math.round(a.left) + 0.5, R = Math.round(a.right) - 0.5;
    const Tp = Math.round(a.top) + 0.5, B = Math.round(a.bottom) - 0.5;
    ctx.save();
    ctx.strokeStyle = '#555';
    ctx.lineWidth = 1;
    ctx.beginPath();
    x.ticks.forEach((t: any) => {
      const px = Math.round(x.getPixelForValue(t.value)) + 0.5;
      ctx.moveTo(px, B); ctx.lineTo(px, B - 3);
      ctx.moveTo(px, Tp); ctx.lineTo(px, Tp + 3);
    });
    y.ticks.forEach((t: any) => {
      const py = Math.round(y.getPixelForValue(t.value)) + 0.5;
      ctx.moveTo(L, py); ctx.lineTo(L + 3, py);
      ctx.moveTo(R, py); ctx.lineTo(R - 3, py);
    });
    ctx.stroke();
    ctx.strokeRect(L, Tp, R - L, B - Tp);
    ctx.restore();
  },
};

function Panel({ cfg }: { cfg: Cfg }) {
  const ref = useRef<HTMLCanvasElement>(null);
  const left = COLX[cfg.col], top = ROWY[cfg.row];
  const PADL = 39, PADT = 10, PADR = 14, PADB = 26;
  const W = PW + PADL + PADR, H = PH + PADT + PADB;
  useEffect(() => {
    const tickFont = { family: FONT, size: 15 };
    const chart = new Chart(ref.current!, {
      type: 'scatter',
      data: {
        datasets: [
          { type: 'line', data: cfg.fx.map((x, i) => ({ x, y: cfg.fy[i] })), borderColor: 'rgb(250,20,20)', borderWidth: cfg.lw, pointRadius: 0, order: 1 } as any,
          { type: 'line', data: cfg.bx.map((x, i) => ({ x, y: cfg.bh[i] })), borderWidth: 0, borderColor: 'rgba(0,0,0,0)', pointRadius: 0, fill: '+1', backgroundColor: 'rgba(255,190,190,0.85)', order: 2 } as any,
          { type: 'line', data: cfg.bx.map((x, i) => ({ x, y: cfg.bl[i] })), borderWidth: 0, borderColor: 'rgba(0,0,0,0)', pointRadius: 0, fill: false, order: 2 } as any,
          { type: 'line', data: [{ x: cfg.ax[0], y: 0 }, { x: cfg.ax[1], y: 0 }], borderColor: '#000', borderWidth: 1, pointRadius: 0, order: 3 } as any,
          { type: 'scatter', data: cfg.pts.map(([x, y]) => ({ x, y })), pointRadius: 3.2, pointBorderWidth: 1, borderColor: BLUE, backgroundColor: 'rgba(0,0,0,0)', order: 4 } as any,
        ],
      },
      options: {
        responsive: false,
        animation: false,
        events: [],
        layout: { padding: { top: PADT, right: PADR, left: 0, bottom: 0 } },
        plugins: { legend: { display: false }, tooltip: { enabled: false } },
        scales: {
          x: {
            type: 'linear', min: cfg.ax[0], max: cfg.ax[1],
            ticks: { stepSize: cfg.ax[2], autoSkip: false, maxRotation: 0, padding: 5, color: '#000', font: tickFont, callback: (v: any) => String(v) },
            grid: { display: false, drawTicks: false }, border: { display: false },
            afterFit: (s: any) => { s.height = PADB; },
          },
          y: {
            type: 'linear', min: cfg.ay[0], max: cfg.ay[1],
            ticks: { stepSize: cfg.ay[2], autoSkip: false, padding: 6, color: '#000', font: tickFont, callback: (v: any) => String(v) },
            grid: { display: false, drawTicks: false }, border: { display: false },
            afterFit: (s: any) => { s.width = PADL; },
          },
        },
      } as any,
      plugins: [boxPlugin],
    });
    return () => chart.destroy();
  }, []);
  const titleStyle: React.CSSProperties = {
    position: 'absolute', fontFamily: FONT, fontSize: 17, lineHeight: '17px', whiteSpace: 'nowrap', color: '#000',
  };
  return (
    <>
      <canvas ref={ref} width={W} height={H} style={{ position: 'absolute', left: left - PADL, top: top - PADT, width: W, height: H }} />
      <div style={{ ...titleStyle, left: left + PW / 2, top: top + PH + 33, transform: 'translate(-50%,-50%)' }}>{cfg.xt}</div>
      <div style={{ ...titleStyle, left: YTX[cfg.col], top: top + PH / 2 - 3, transform: 'translate(-50%,-50%) rotate(-90deg)' }}>{cfg.yt}</div>
    </>
  );
}

export default function App() {
  return (
    <div style={{ position: 'absolute', left: 0, top: 0, width: 685, height: 503, background: '#fff', overflow: 'hidden' }}>
      {PANELS.map((p, i) => <Panel key={i} cfg={p} />)}
    </div>
  );
}
